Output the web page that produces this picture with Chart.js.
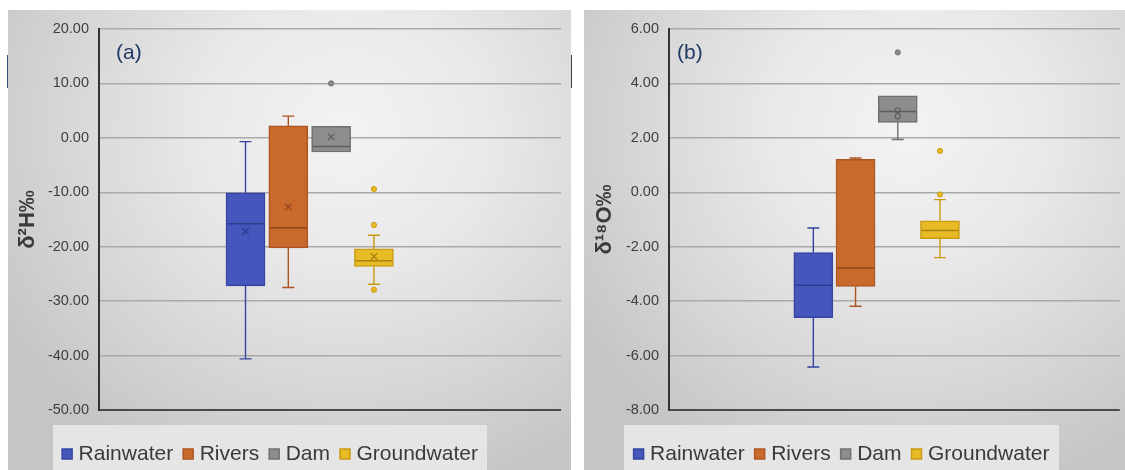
<!DOCTYPE html>
<html>
<head>
<meta charset="utf-8">
<script src="https://cdn.jsdelivr.net/npm/chart.js@4.4.1/dist/chart.umd.min.js"></script>
<style>
  html, body { margin: 0; padding: 0; background: #ffffff; width: 1125px; height: 470px; overflow: hidden; }
  body { position: relative; font-family: "Liberation Sans", Arial, sans-serif; }
  .panel {
    position: absolute; top: 10px; height: 460px;
    background: radial-gradient(ellipse 72% 82% at 60% 26%, #f3f3f3 0%, #e9e9e9 35%, #d6d6d6 70%, #c5c5c5 100%);
  }
  #panelA { left: 8px; width: 563px; }
  #panelB { left: 584px; width: 541px; }
  .legend-bg { position: absolute; top: 415px; height: 45px; background: #e5e5e5; }
  #panelA .legend-bg { left: 45px; width: 434px; }
  #panelB .legend-bg { left: 40px; width: 435px; }
  .panel canvas { position: absolute; left: 0; top: 0; }
  .tag { position: absolute; top: 31px; font-size: 21px; line-height: 22px; color: #1f3864; }
  #panelA .tag { left: 108px; }
  #panelB .tag { left: 93px; }
  .edge-mark { position: absolute; top: 55px; width: 2px; height: 33px; }
</style>
</head>
<body>
<div class="edge-mark" style="left:7px;background:#3d4f7e;"></div>
<div class="edge-mark" style="left:570px;background:#3b4150;"></div>

<div class="panel" id="panelA">
  <div class="legend-bg"></div>
  <canvas id="chartA" width="563" height="460"></canvas>
  <div class="tag">(a)</div>
</div>
<div class="panel" id="panelB">
  <div class="legend-bg"></div>
  <canvas id="chartB" width="541" height="460"></canvas>
  <div class="tag">(b)</div>
</div>

<script>
// Sample groups
const CATEGORIES = ['Rainwater', 'Rivers', 'Dam', 'Groundwater'];

// δ²H (‰) five-number summaries, means and outliers per group
const H_MIN      = [-40.6, -27.5, -2.6, -26.9];
const H_Q1       = [-27.2, -20.2, -2.6, -23.6];
const H_MEDIAN   = [-15.8, -16.5, -1.6, -22.6];
const H_Q3       = [-10.1,   2.2,  2.1, -20.4];
const H_MAX      = [ -0.7,   4.0,  2.1, -17.9];
const H_MEAN     = [-17.2, -12.7,  0.2, -21.8];
const H_OUTLIERS = [[], [], [10.0], [-9.4, -16.0, -27.9]];
const H_TICKS    = [-50, -40, -30, -20, -10, 0, 10, 20];

// δ¹⁸O (‰) five-number summaries, inner points and outliers per group
const O_MIN      = [-6.42, -4.19, 1.94, -2.40];
const O_Q1       = [-4.61, -3.46, 2.57, -1.70];
const O_MEDIAN   = [-3.42, -2.78, 2.97, -1.40];
const O_Q3       = [-2.22,  1.21, 3.54, -1.05];
const O_MAX      = [-1.31,  1.26, 3.54, -0.27];
const O_INNER    = [[], [], [3.01, 2.79], []];
const O_OUTLIERS = [[], [], [5.14], [1.52, -0.08]];
const O_TICKS    = [-8, -6, -4, -2, 0, 2, 4, 6];

// Palette: box fill, box edge, median / marker shade
const FILL = ['#4556bd', '#c96a2c', '#8d8d8d', '#e8bb24'];
const EDGE = ['#34449f', '#ad5520', '#6f6f6f', '#c99b12'];
const DARK = ['#2e3b8c', '#92471d', '#5e5e5e', '#a98212'];

const FONT = '"Liberation Sans", Arial, sans-serif';

// Draws whiskers, caps and median lines on top of the floating-bar boxes,
// and pins the legend inside its shaded strip.
function boxPlotPlugin(stats, legendBox) {
  return {
    id: 'boxPlotExtras',
    beforeLayout(chart) {
      const lg = chart.legend;
      if (lg && !lg._fixedHeight) {
        const fit = lg.fit;
        lg.fit = function () { fit.call(this); this.height = 60; };
        lg._fixedHeight = true;
      }
    },
    beforeDraw(chart) {
      const lg = chart.legend;
      if (!lg) return;
      lg.left = legendBox.left;
      lg.right = legendBox.right;
      lg.top = legendBox.top;
      lg.bottom = chart.height;
    },
    afterDatasetsDraw(chart) {
      const { ctx, scales: { x, y } } = chart;
      const half = 19.5, cap = 6;
      ctx.save();
      stats.min.forEach((mn, i) => {
        const cx = x.getPixelForValue(i + 1);
        const yMin = y.getPixelForValue(mn);
        const yQ1 = y.getPixelForValue(stats.q1[i]);
        const yQ3 = y.getPixelForValue(stats.q3[i]);
        const yMax = y.getPixelForValue(stats.max[i]);
        const yMed = y.getPixelForValue(stats.median[i]);
        ctx.strokeStyle = EDGE[i];
        ctx.lineWidth = 1.4;
        ctx.beginPath();
        if (stats.max[i] > stats.q3[i]) {
          ctx.moveTo(cx, yQ3); ctx.lineTo(cx, yMax);
          ctx.moveTo(cx - cap, yMax); ctx.lineTo(cx + cap, yMax);
        }
        if (mn < stats.q1[i]) {
          ctx.moveTo(cx, yQ1); ctx.lineTo(cx, yMin);
          ctx.moveTo(cx - cap, yMin); ctx.lineTo(cx + cap, yMin);
        }
        ctx.stroke();
        ctx.strokeStyle = DARK[i];
        ctx.lineWidth = 1.5;
        ctx.beginPath();
        ctx.moveTo(cx - half + 1, yMed); ctx.lineTo(cx + half - 1, yMed);
        ctx.stroke();
      });
      ctx.restore();
    }
  };
}

function buildChart(canvasId, cfg) {
  const boxes = CATEGORIES.map((name, i) => ({
    type: 'bar',
    label: name,
    data: [{ x: i + 1, y: [cfg.q1[i], cfg.q3[i]] }],
    backgroundColor: FILL[i],
    borderColor: EDGE[i],
    borderWidth: 1.5,
    borderSkipped: false,
    barThickness: 39,
    grouped: false,
    order: 2
  }));

  const markers = [];
  const pushPoints = (label, values, style) => {
    const pts = [], bg = [], bd = [];
    values.forEach((list, i) => {
      (Array.isArray(list) ? list : (list == null ? [] : [list])).forEach(v => {
        pts.push({ x: i + 1, y: v });
        bg.push(style.fill ? style.fill[i] : 'rgba(0,0,0,0)');
        bd.push(style.edge[i]);
      });
    });
    if (!pts.length) return;
    markers.push({
      type: 'scatter',
      label,
      data: pts,
      pointStyle: style.shape,
      pointRadius: style.radius,
      pointBorderWidth: style.width,
      pointBackgroundColor: bg,
      pointBorderColor: bd,
      order: 1
    });
  };
  if (cfg.mean) pushPoints('mean', cfg.mean, { shape: 'crossRot', radius: 4.5, width: 1.3, edge: DARK });
  if (cfg.inner) pushPoints('inner', cfg.inner, { shape: 'circle', radius: 2.6, width: 1.2, fill: FILL, edge: DARK });
  pushPoints('outliers', cfg.outliers, { shape: 'circle', radius: 2.6, width: 1, fill: FILL, edge: EDGE });

  const ticks = cfg.ticks;
  const bottomVal = ticks[0];

  return new Chart(document.getElementById(canvasId), {
    type: 'bar',
    data: { datasets: boxes.concat(markers) },
    options: {
      responsive: false,
      maintainAspectRatio: false,
      devicePixelRatio: 1,
      animation: false,
      events: [],
      layout: { padding: { top: 19, right: cfg.padRight, left: 0, bottom: 0 } },
      scales: {
        x: {
          type: 'linear',
          display: false,
          min: cfg.xMin,
          max: cfg.xMax,
          offset: false
        },
        y: {
          type: 'linear',
          min: ticks[0],
          max: ticks[ticks.length - 1],
          afterBuildTicks: scale => { scale.ticks = ticks.map(v => ({ value: v })); },
          afterFit: scale => { scale.width = cfg.axisWidth; },
          ticks: {
            padding: 10,
            color: '#3f3f3f',
            font: { family: FONT, size: 14.5 },
            callback: v => Number(v).toFixed(2)
          },
          grid: {
            drawTicks: false,
            color: c => (c.tick && c.tick.value === bottomVal ? '#4a4a4a' : '#a9a9a9'),
            lineWidth: c => (c.tick && c.tick.value === bottomVal ? 2 : 1.5)
          },
          border: { display: true, color: '#333333', width: 2 },
          title: {
            display: true,
            text: cfg.title,
            color: '#3a3a3a',
            padding: { top: cfg.titlePad, bottom: 0 },
            font: { family: FONT, size: 22, weight: 'bold' }
          }
        }
      },
      plugins: {
        tooltip: { enabled: false },
        legend: {
          position: 'bottom',
          labels: {
            filter: item => item.datasetIndex < CATEGORIES.length,
            usePointStyle: true,
            pointStyle: 'rect',
            boxWidth: 2,
            boxHeight: 10,
            padding: 14,
            color: '#3a3a3a',
            font: { family: FONT, size: 21 }
          }
        }
      }
    },
    plugins: [boxPlotPlugin(cfg, cfg.legendBox)]
  });
}

buildChart('chartA', {
  min: H_MIN, q1: H_Q1, median: H_MEDIAN, q3: H_Q3, max: H_MAX,
  mean: H_MEAN, outliers: H_OUTLIERS, ticks: H_TICKS,
  title: 'δ²H‰',
  xMin: -2.423, xMax: 8.371, axisWidth: 91, padRight: 10, titlePad: 7,
  legendBox: { left: 24, right: 504, top: 419.5 }
});

buildChart('chartB', {
  min: O_MIN, q1: O_Q1, median: O_MEDIAN, q3: O_Q3, max: O_MAX,
  inner: O_INNER, outliers: O_OUTLIERS, ticks: O_TICKS,
  title: 'δ¹⁸O‰',
  xMin: -2.419, xMax: 8.26, axisWidth: 85, padRight: 0, titlePad: 8,
  legendBox: { left: 19.5, right: 499.5, top: 419.5 }
});
</script>
</body>
</html>
